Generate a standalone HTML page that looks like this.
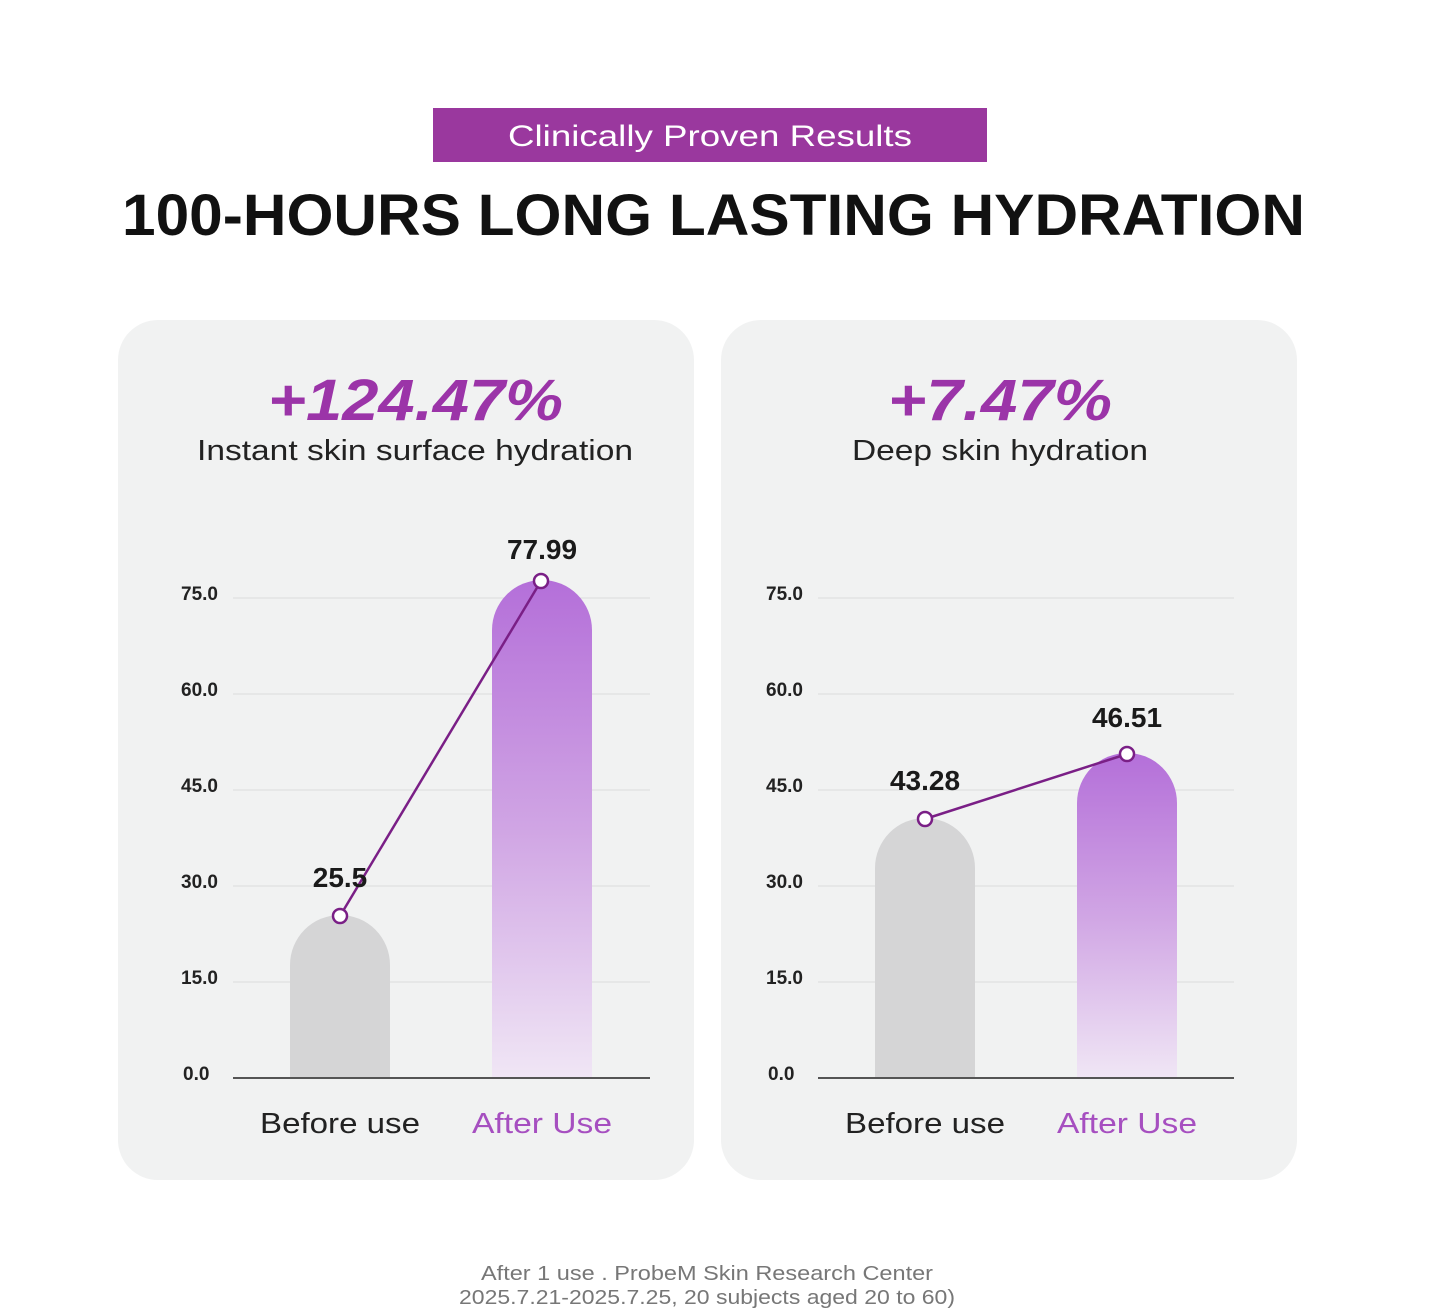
<!DOCTYPE html>
<html><head><meta charset="utf-8"><style>html,body{margin:0;padding:0;background:#fff}svg{display:block}</style></head>
<body>
<svg width="1452" height="1312" viewBox="0 0 1452 1312" xmlns="http://www.w3.org/2000/svg" font-family="'Liberation Sans', sans-serif">
<defs>
<linearGradient id="g" x1="0" y1="0" x2="0" y2="1">
<stop offset="0" stop-color="#b46fd9"/><stop offset="0.5" stop-color="#d0a5e4"/><stop offset="1" stop-color="#f0e6f5"/>
</linearGradient>
</defs>
<rect width="1452" height="1312" fill="#fff"/>
<rect x="433" y="108" width="554" height="54" fill="#9a389e"/>
<text x="710" y="146" text-anchor="middle" font-size="30" fill="#fff" textLength="404" lengthAdjust="spacingAndGlyphs">Clinically Proven Results</text>
<text x="122" y="235" font-size="58" font-weight="bold" fill="#111" textLength="1183" lengthAdjust="spacingAndGlyphs">100-HOURS LONG LASTING HYDRATION</text>

<rect x="118" y="320" width="576" height="860" rx="40" fill="#f1f2f2"/>
<rect x="721" y="320" width="576" height="860" rx="40" fill="#f1f2f2"/>

<text x="268" y="420" font-size="58" font-weight="bold" font-style="italic" fill="#9b34a8" textLength="295" lengthAdjust="spacingAndGlyphs">+124.47%</text>
<text x="197" y="460" font-size="29" fill="#222" textLength="436" lengthAdjust="spacingAndGlyphs">Instant skin surface hydration</text>
<text x="888" y="420" font-size="58" font-weight="bold" font-style="italic" fill="#9b34a8" textLength="224" lengthAdjust="spacingAndGlyphs">+7.47%</text>
<text x="852" y="460" font-size="29" fill="#222" textLength="296" lengthAdjust="spacingAndGlyphs">Deep skin hydration</text>

<g stroke="#e2e3e3" stroke-width="1.5">
<line x1="233" y1="598" x2="650" y2="598"/><line x1="233" y1="694" x2="650" y2="694"/><line x1="233" y1="790" x2="650" y2="790"/><line x1="233" y1="886" x2="650" y2="886"/><line x1="233" y1="982" x2="650" y2="982"/>
<line x1="818" y1="598" x2="1234" y2="598"/><line x1="818" y1="694" x2="1234" y2="694"/><line x1="818" y1="790" x2="1234" y2="790"/><line x1="818" y1="886" x2="1234" y2="886"/><line x1="818" y1="982" x2="1234" y2="982"/>
</g>
<g font-size="19" font-weight="bold" fill="#222">
<text x="181" y="600">75.0</text><text x="181" y="696">60.0</text><text x="181" y="792">45.0</text><text x="181" y="888">30.0</text><text x="181" y="984">15.0</text><text x="183" y="1080">0.0</text>
<text x="766" y="600">75.0</text><text x="766" y="696">60.0</text><text x="766" y="792">45.0</text><text x="766" y="888">30.0</text><text x="766" y="984">15.0</text><text x="768" y="1080">0.0</text>
</g>

<path d="M290 1078 V965 A50 50 0 0 1 390 965 V1078 Z" fill="#d5d5d6"/>
<path d="M492 1078 V630 A50 50 0 0 1 592 630 V1078 Z" fill="url(#g)"/>
<path d="M875 1078 V868 A50 50 0 0 1 975 868 V1078 Z" fill="#d5d5d6"/>
<path d="M1077 1078 V803 A50 50 0 0 1 1177 803 V1078 Z" fill="url(#g)"/>

<line x1="233" y1="1078" x2="650" y2="1078" stroke="#555" stroke-width="2"/>
<line x1="818" y1="1078" x2="1234" y2="1078" stroke="#555" stroke-width="2"/>

<line x1="340" y1="916" x2="541" y2="581" stroke="#7a1f86" stroke-width="2.5"/>
<line x1="925" y1="819" x2="1127" y2="754" stroke="#7a1f86" stroke-width="2.5"/>
<g fill="#fff" stroke="#7a1f86" stroke-width="2.5">
<circle cx="340" cy="916" r="7"/><circle cx="541" cy="581" r="7"/><circle cx="925" cy="819" r="7"/><circle cx="1127" cy="754" r="7"/>
</g>

<g font-size="28" font-weight="bold" fill="#1a1a1a" text-anchor="middle">
<text x="542" y="559">77.99</text><text x="340" y="887">25.5</text><text x="925" y="790">43.28</text><text x="1127" y="727">46.51</text>
</g>
<g font-size="29" text-anchor="middle">
<text x="340" y="1133" fill="#222" textLength="160" lengthAdjust="spacingAndGlyphs">Before use</text>
<text x="542" y="1133" fill="#a64fc0" textLength="140" lengthAdjust="spacingAndGlyphs">After Use</text>
<text x="925" y="1133" fill="#222" textLength="160" lengthAdjust="spacingAndGlyphs">Before use</text>
<text x="1127" y="1133" fill="#a64fc0" textLength="140" lengthAdjust="spacingAndGlyphs">After Use</text>
</g>
<g font-size="20" fill="#777" text-anchor="middle">
<text x="707" y="1280" textLength="452" lengthAdjust="spacingAndGlyphs">After 1 use . ProbeM Skin Research Center</text>
<text x="707" y="1304" textLength="496" lengthAdjust="spacingAndGlyphs">2025.7.21-2025.7.25, 20 subjects aged 20 to 60)</text>
</g>
</svg>
</body></html>
